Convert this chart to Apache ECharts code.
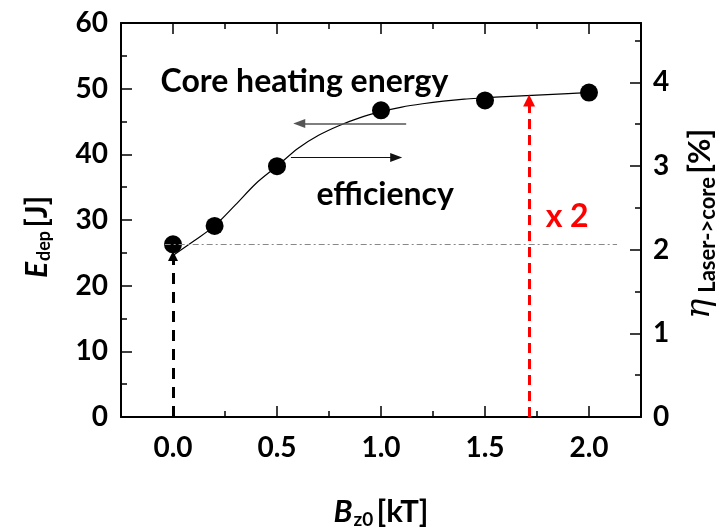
<!DOCTYPE html>
<html>
<head>
<meta charset="utf-8">
<script src="https://cdn.jsdelivr.net/npm/echarts@6/dist/echarts.min.js"></script>
<style>
html,body{margin:0;padding:0;background:#fff}
#main{width:718px;height:527px}
</style>
</head>
<body>
<div id="main"></div>
<script>
// measured points
var bField = [0, 0.2, 0.5, 1.0, 1.5, 2.0];
var eDep = [26.3, 29.1, 38.2, 46.7, 48.2, 49.4];
// fitted curve, every 0.1 kT
var fitB = [0, 0.1, 0.2, 0.3, 0.4, 0.5, 0.6, 0.7, 0.8, 0.9, 1.0, 1.1, 1.2, 1.3, 1.4, 1.5, 1.6, 1.7, 1.8, 1.9, 2.0];
var fitE = [24.6, 26.8, 29.1, 32.3, 35.6, 38.2, 40.9, 42.9, 44.4, 45.6, 46.5, 47.2, 47.7, 48.1, 48.4, 48.6, 48.8, 48.95, 49.1, 49.25, 49.4];
// ticks
var xMajor = [0, 0.5, 1.0, 1.5, 2.0];
var xMinor = [0.25, 0.75, 1.25, 1.75];
var etaMajor = [0, 1, 2, 3, 4];
var etaMinor = [0.5, 1.5, 2.5, 3.5, 4.5];

var FONT = 'Lato';
var bold = {fontFamily: FONT, fontWeight: 'bold', fontSize: 28, color: '#000'};
var noteFont = {fontFamily: FONT, fontWeight: 'bold', fontSize: 32, color: '#000'};

function pairs(xs, ys) {
    return xs.map(function (x, i) { return [x, ys[i]]; });
}

// x axis pieces (major/minor ticks, bottom and top of the box)
function xAxisPart(pos, ticks, len, withLine) {
    return {
        type: 'value', position: pos, min: -0.25, max: 2.25,
        splitLine: {show: false},
        axisLine: {show: withLine, onZero: false, lineStyle: {color: '#000', width: 2}},
        axisTick: {show: true, inside: true, length: len, customValues: ticks, lineStyle: {color: '#000', width: 1.5}},
        axisLabel: {show: false}
    };
}

var xAxes = [
    xAxisPart('bottom', xMajor, 11, true),
    xAxisPart('bottom', xMinor, 6, false),
    xAxisPart('top', xMajor, 11, true),
    xAxisPart('top', xMinor, 6, false)
];
xAxes[0].axisLabel = Object.assign({
    show: true, customValues: xMajor, margin: 17,
    formatter: function (v) { return v.toFixed(1); }
}, bold);
xAxes[0].name = '{i|B}{s|z0} {n|[kT]}';
xAxes[0].nameLocation = 'middle';
xAxes[0].nameGap = 78;
xAxes[0].nameTextStyle = {
    rich: {
        i: {fontFamily: FONT, fontWeight: 'bold', fontStyle: 'italic', fontSize: 31, color: '#000'},
        s: {fontFamily: FONT, fontWeight: 'bold', fontSize: 19, color: '#000', padding: [15, 0, 0, 1]},
        n: {fontFamily: FONT, fontWeight: 'bold', fontSize: 31, color: '#000'}
    }
};

var yAxes = [
    {
        type: 'value', position: 'left', min: 0, max: 60, interval: 10,
        splitLine: {show: false},
        axisLine: {show: true, onZero: false, lineStyle: {color: '#000', width: 2}},
        axisTick: {show: true, inside: true, length: 11, lineStyle: {color: '#000', width: 1.5}},
        minorTick: {show: true, splitNumber: 2, length: 6, lineStyle: {color: '#000', width: 1.5}},
        axisLabel: Object.assign({margin: 13}, bold),
        name: '{i|E}{s|dep} {n|[J]}',
        nameLocation: 'middle', nameRotate: 90, nameGap: 68,
        nameTextStyle: {
            rich: {
                i: {fontFamily: FONT, fontWeight: 'bold', fontStyle: 'italic', fontSize: 30, color: '#000'},
                s: {fontFamily: FONT, fontWeight: 'bold', fontSize: 18, color: '#000', padding: [14, 0, 0, 1]},
                n: {fontFamily: FONT, fontWeight: 'bold', fontSize: 30, color: '#000', padding: [0, 34, 0, 0]}
            }
        }
    },
    {
        type: 'value', position: 'right', min: 0, max: 4.71,
        splitLine: {show: false},
        axisLine: {show: true, onZero: false, lineStyle: {color: '#000', width: 2}},
        axisTick: {show: true, inside: true, length: 11, customValues: etaMajor, lineStyle: {color: '#000', width: 1.5}},
        axisLabel: Object.assign({margin: 12, customValues: etaMajor}, bold),
        name: '{e|η}{s|Laser->core} {n|[%]}',
        nameLocation: 'middle', nameRotate: 90, nameGap: 40,
        nameTextStyle: {
            rich: {
                e: {fontFamily: 'DejaVu Serif', fontStyle: 'italic', fontSize: 34, color: '#000'},
                s: {fontFamily: FONT, fontWeight: 'bold', fontSize: 22, color: '#000', padding: [16, 0, 0, 6]},
                n: {fontFamily: FONT, fontWeight: 'bold', fontSize: 31, color: '#000', padding: [0, 8, 0, 0]}
            }
        }
    },
    {
        type: 'value', position: 'right', min: 0, max: 4.71,
        splitLine: {show: false},
        axisLine: {show: false, onZero: false},
        axisTick: {show: true, inside: true, length: 6, customValues: etaMinor, lineStyle: {color: '#000', width: 1.5}},
        axisLabel: {show: false}
    }
];

var option = {
    animation: false,
    backgroundColor: '#fff',
    grid: {left: 121, right: 77, top: 23, bottom: 110, outerBoundsMode: 'none'},
    xAxis: xAxes,
    yAxis: yAxes,
    series: [
        {
            name: 'fit',
            type: 'line',
            data: pairs(fitB, fitE),
            smooth: 0.3,
            showSymbol: false,
            lineStyle: {color: '#000', width: 1.2},
            silent: true,
            z: 3,
            markLine: {
                silent: true,
                label: {show: false},
                emphasis: {disabled: true},
                data: [
                    // reference level at B = 0
                    [{coord: [-0.04, 26.3], symbol: 'none', lineStyle: {color: '#888', width: 1, type: [6, 3, 2, 3]}},
                     {coord: [2.135, 26.3], symbol: 'none'}],
                    // energy arrow (points to left axis)
                    [{coord: [1.121, 44.7], symbol: 'none', lineStyle: {color: '#555', width: 1.5, type: 'solid'}},
                     {coord: [0.607, 44.7], symbol: 'triangle', symbolSize: [9, 12]}],
                    // efficiency arrow (points to right axis)
                    [{coord: [0.567, 39.5], symbol: 'none', lineStyle: {color: '#111', width: 1, type: 'solid'}},
                     {coord: [1.073, 39.5], symbol: 'triangle', symbolSize: [9, 12]}],
                    // black dashed arrow at B = 0
                    [{coord: [0, 0], symbol: 'none', lineStyle: {color: '#000', width: 3, type: [11, 8]}},
                     {coord: [0, 24.5], symbol: 'triangle', symbolSize: [10, 10]}],
                    // red dashed arrow
                    [{coord: [1.712, 0], symbol: 'none', lineStyle: {color: '#ff0000', width: 3, type: [10, 6]}},
                     {coord: [1.712, 48.2], symbol: 'triangle', symbolSize: [12, 12]}]
                ]
            }
        },
        {
            name: 'Edep',
            type: 'scatter',
            data: pairs(bField, eDep),
            symbol: 'circle',
            symbolSize: 18,
            itemStyle: {color: '#000', opacity: 1},
            z: 4,
            markPoint: {
                silent: true,
                symbol: 'rect',
                symbolSize: 1,
                itemStyle: {color: 'rgba(0,0,0,0)'},
                label: Object.assign({show: true, position: 'inside'}, noteFont),
                data: [
                    {coord: [0.632, 51.0], label: {formatter: 'Core heating energy'}},
                    {coord: [1.02, 33.8], label: {formatter: 'efficiency'}},
                    {coord: [1.895, 30.5], label: {formatter: 'x 2', color: '#ff0000'}}
                ]
            }
        }
    ]
};

var chart = echarts.init(document.getElementById('main'));
chart.setOption(option);
</script>
</body>
</html>
